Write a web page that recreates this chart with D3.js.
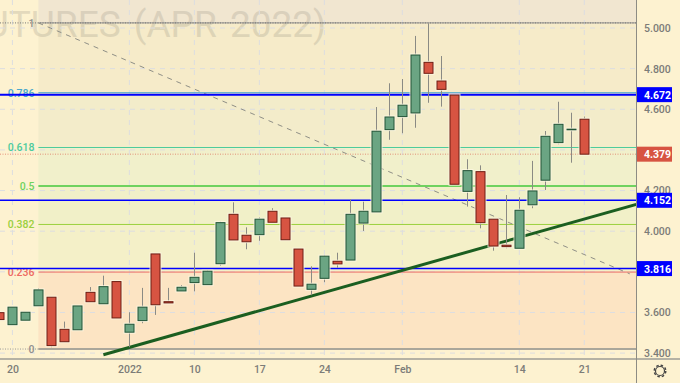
<!DOCTYPE html>
<html>
<head>
  <meta charset="utf-8">
  <title>Futures (Apr 2022)</title>
  <script src="https://d3js.org/d3.v7.min.js"></script>
  <style>
    html, body { margin: 0; padding: 0; background: #fdf2d0; overflow: hidden; }
    svg { display: block; }
    text { font-family: "Roboto", sans-serif; }
  </style>
</head>
<body>
<div id="chart"></div>
<script>
  // trading days, Dec 17 2021 - Feb 21 2022
  var dates = ["12-17","12-20","12-21","12-22","12-23","12-27","12-28","12-29","12-30","12-31",
    "01-03","01-04","01-05","01-06","01-07","01-10","01-11","01-12","01-13","01-14",
    "01-17","01-18","01-19","01-20","01-21","01-24","01-25","01-26","01-27","01-28",
    "01-31","02-01","02-02","02-03","02-04","02-07","02-08","02-09","02-10","02-11",
    "02-14","02-15","02-16","02-17","02-18","02-21"]

  var open  = [3.599,3.540,3.562,3.633,3.675,3.517,3.515,3.699,3.643,3.752,
    3.503,3.560,3.888,3.653,3.706,3.747,3.737,3.840,4.083,3.980,
    3.983,4.098,4.065,3.912,3.714,3.768,3.852,3.858,4.040,4.095,
    4.500,4.564,4.582,4.831,4.739,4.670,4.196,4.293,4.059,3.931,
    3.916,4.130,4.251,4.436,4.499,4.551]
  var close = [3.565,3.626,3.601,3.711,3.437,3.456,3.632,3.653,3.727,3.573,
    3.542,3.626,3.638,3.647,3.724,3.773,3.803,4.042,3.957,3.948,
    4.059,4.044,3.958,3.730,3.739,3.877,3.839,4.083,4.098,4.492,
    4.562,4.620,4.867,4.777,4.698,4.231,4.298,4.042,3.927,3.924,
    4.103,4.198,4.467,4.526,4.502,4.379]
  var high  = [3.599,3.626,3.601,3.719,3.675,3.555,3.632,3.725,3.781,3.752,
    3.601,3.721,3.888,3.721,3.735,3.894,3.809,4.047,4.142,4.019,
    4.068,4.113,4.065,3.912,3.827,3.883,3.894,4.157,4.145,4.611,
    4.728,4.749,4.961,5.023,4.862,4.670,4.354,4.324,4.059,4.178,
    4.167,4.346,4.493,4.637,4.583,4.564]
  var low   = [3.565,3.540,3.562,3.633,3.429,3.456,3.515,3.653,3.643,3.573,
    3.429,3.547,3.588,3.647,3.706,3.704,3.737,3.830,3.957,3.911,
    3.953,4.044,3.958,3.730,3.685,3.749,3.820,3.858,4.001,4.095,
    4.450,4.482,4.509,4.632,4.613,4.231,4.121,4.014,3.904,3.916,
    3.916,4.113,4.203,4.428,4.337,4.379]

  var fibLevels = [1, 0.786, 0.618, 0.5, 0.382, 0.236, 0]
  var fibLabels = ["1", "0.786", "0.618", "0.5", "0.382", "0.236", "0"]
  var fibColors = ["#8f8f8f", "#4aa8cc", "#4ccb9c", "#6fd25f", "#9bd03e", "#ee6a62", "#aaa69a"]
  var fibFills  = ["#f6ebc9", "#f3ecca", "#f1f0cb", "#f1f0c8", "#f4f0c8", "#fce4c3"]
  var fibHigh = 5.025, fibLow = 3.42

  var blueLevels = [4.672, 4.152, 3.816]
  var lastPrice = 4.379

  var priceTicks = [5.0, 4.8, 4.6, 4.4, 4.2, 4.0, 3.8, 3.6, 3.4]
  var timeTickDates = ["12-20", "01-03", "01-10", "01-17", "01-24", "02-01", "02-14", "02-21"]
  var timeTickLabels = ["20", "2022", "10", "17", "24", "Feb", "14", "21"]

  // bar index / price pairs for the drawn lines
  var trendLine = [[8, 3.392], [49, 4.132]]
  var fibTrend = [[3, 5.025], [48.5, 3.79]]

  var width = 680, height = 383
  var plotRight = 636, plotBottom = 358

  var x = d3.scaleLinear().domain([0, 45]).range([-0.6, 584.3])
  var y = d3.scaleLinear().domain([5, 3.4]).range([28, 353.1])
  var fibY = v => y(fibLow + v * (fibHigh - fibLow))

  var svg = d3.select("#chart").append("svg")
    .attr("width", width)
    .attr("height", height)

  svg.append("clipPath").attr("id", "plotClip")
    .append("rect").attr("width", plotRight).attr("height", plotBottom)

  var plot = svg.append("g").attr("clip-path", "url(#plotClip)")

  // fib zones
  var fibX = x(3)
  plot.append("rect")
    .attr("x", fibX).attr("y", 0)
    .attr("width", plotRight - fibX).attr("height", fibY(1))
    .attr("fill", "#f1e6d0")
  plot.selectAll("rect.zone")
    .data(fibFills)
    .join("rect")
      .attr("class", "zone")
      .attr("x", fibX)
      .attr("y", (d, i) => fibY(fibLevels[i]))
      .attr("width", plotRight - fibX)
      .attr("height", (d, i) => fibY(fibLevels[i + 1]) - fibY(fibLevels[i]))
      .attr("fill", d => d)

  // watermark
  plot.append("text")
    .attr("x", 326).attr("y", 37)
    .attr("text-anchor", "end")
    .style("font-size", "37px")
    .style("word-spacing", "4px")
    .attr("fill", "#8a8578")
    .attr("opacity", 0.22)
    .text("FUTURES (APR 2022)")

  // grid
  var tickIndex = timeTickDates.map(d => dates.indexOf(d))
  plot.selectAll("line.gridX")
    .data(tickIndex)
    .join("line")
      .attr("class", "gridX")
      .attr("x1", d => x(d)).attr("x2", d => x(d))
      .attr("y1", 0).attr("y2", plotBottom)
      .attr("stroke", "#dcdde0").attr("stroke-dasharray", "5 5")
  plot.selectAll("line.gridY")
    .data(priceTicks)
    .join("line")
      .attr("class", "gridY")
      .attr("x1", 0).attr("x2", plotRight)
      .attr("y1", d => y(d)).attr("y2", d => y(d))
      .attr("stroke", "#dcdde0").attr("stroke-dasharray", "5 5")

  // fib lines
  plot.selectAll("line.fib")
    .data(fibLevels)
    .join("line")
      .attr("class", "fib")
      .attr("x1", fibX).attr("x2", plotRight)
      .attr("y1", d => fibY(d)).attr("y2", d => fibY(d))
      .attr("stroke", (d, i) => fibColors[i])
      .attr("stroke-width", d => (d == 0 || d == 0.5) ? 2 : 1)

  // labels go under the blue lines, 0.786 is half hidden in the reference
  plot.selectAll("text.fibLabel")
    .data(fibLabels)
    .join("text")
      .attr("class", "fibLabel")
      .attr("x", 34.5)
      .attr("y", (d, i) => fibY(fibLevels[i]) + 4)
      .attr("text-anchor", "end")
      .style("font-size", "10.5px")
      .style("font-weight", 500)
      .attr("fill", (d, i) => fibColors[i] == "#aaa69a" ? "#8f8f8f" : fibColors[i])
      .text(d => d)

  // dotted lines for the high and low of the range
  plot.append("line")
    .attr("x1", 0).attr("x2", plotRight)
    .attr("y1", fibY(1)).attr("y2", fibY(1))
    .attr("stroke", "#777").attr("stroke-dasharray", "1 1.5")
  plot.append("line")
    .attr("x1", 0).attr("x2", fibX)
    .attr("y1", fibY(0)).attr("y2", fibY(0))
    .attr("stroke", "#999").attr("stroke-dasharray", "1 1.5")

  // last price line
  plot.append("line")
    .attr("x1", 0).attr("x2", plotRight)
    .attr("y1", y(lastPrice)).attr("y2", y(lastPrice))
    .attr("stroke", "#d75442").attr("opacity", 0.6).attr("stroke-dasharray", "1 1.5")

  var line = d3.line().x(d => x(d[0])).y(d => y(d[1]))

  plot.append("path")
    .attr("d", line(fibTrend))
    .attr("fill", "none")
    .attr("stroke", "#8f8f86").attr("stroke-width", 1)
    .attr("stroke-dasharray", "5 5")

  plot.selectAll("line.blue")
    .data(blueLevels)
    .join("line")
      .attr("class", "blue")
      .attr("x1", 0).attr("x2", plotRight)
      .attr("y1", d => y(d)).attr("y2", d => y(d))
      .attr("stroke", "#0000ff")
      .attr("stroke-width", (d, i) => i == 0 ? 2 : 1.5)

  plot.append("path")
    .attr("d", line(trendLine))
    .attr("fill", "none")
    .attr("stroke", "#1b5e20").attr("stroke-width", 3)

  // candles
  var candles = plot.selectAll("g.candle")
    .data(dates)
    .join("g")
      .attr("class", "candle")

  candles.append("line")
    .attr("x1", (d, i) => Math.round(x(i)) + 0.5).attr("x2", (d, i) => Math.round(x(i)) + 0.5)
    .attr("y1", (d, i) => y(high[i])).attr("y2", (d, i) => y(low[i]))
    .attr("stroke", "#8a8a84").attr("stroke-width", 1)

  // pale halo round the bodies
  candles.append("rect")
    .attr("x", (d, i) => Math.round(x(i)) - 4)
    .attr("width", 9)
    .attr("y", (d, i) => y(Math.max(open[i], close[i])))
    .attr("height", (d, i) => Math.max(0.5, Math.abs(y(open[i]) - y(close[i]))))
    .attr("fill", "none")
    .attr("stroke", "#fdf8e4").attr("stroke-width", 3).attr("opacity", 0.8)

  candles.append("rect")
    .attr("x", (d, i) => Math.round(x(i)) - 4)
    .attr("width", 9)
    .attr("y", (d, i) => y(Math.max(open[i], close[i])))
    .attr("height", (d, i) => Math.max(0.5, Math.abs(y(open[i]) - y(close[i]))))
    .attr("fill", (d, i) => close[i] >= open[i] ? "#6ba583" : "#d75442")
    .attr("stroke", (d, i) => close[i] >= open[i] ? "#225437" : "#6f1d12")
    .attr("stroke-width", 1)

  // axes
  var xAxis = d3.axisBottom(x)
    .tickValues(tickIndex)
    .tickFormat((d, i) => timeTickLabels[i])
    .tickSize(0).tickPadding(8)
  var xg = svg.append("g").attr("transform", "translate(0," + plotBottom + ")").call(xAxis)
  xg.select(".domain").remove()
  xg.selectAll("text").style("font-size", "10.5px").style("font-weight", 500).attr("fill", "#7c7c78")

  // the tags cover 4.400, so that tick is left to them
  var yAxis = d3.axisRight(y)
    .tickValues(priceTicks.filter(d => d != 3.8 && d != 4.4))
    .tickFormat(d3.format(".3f"))
    .tickSize(0).tickPadding(8)
  var yg = svg.append("g").attr("transform", "translate(" + plotRight + ",0)").call(yAxis)
  yg.select(".domain").remove()
  yg.selectAll("text").style("font-size", "10.5px").style("font-weight", 500).attr("fill", "#7c7c78")

  svg.append("line")
    .attr("x1", 0).attr("x2", width)
    .attr("y1", plotBottom + 1).attr("y2", plotBottom + 1)
    .attr("stroke", "#b5b2a4").attr("stroke-width", 2)
  svg.append("line")
    .attr("x1", plotRight + 0.5).attr("x2", plotRight + 0.5)
    .attr("y1", 0).attr("y2", height)
    .attr("stroke", "#8d8c84").attr("stroke-width", 1)

  // price tags on the axis
  var tags = blueLevels.map(v => ({ v: v, c: "#0000ff" })).concat([{ v: lastPrice, c: "#d75442" }])
  var tag = svg.selectAll("g.tag")
    .data(tags)
    .join("g")
      .attr("class", "tag")
      .attr("transform", d => "translate(" + (plotRight + 1) + "," + y(d.v) + ")")
  tag.append("rect")
    .attr("x", 0).attr("y", -7.5)
    .attr("width", 35).attr("height", 15)
    .attr("fill", d => d.c)
  tag.append("text")
    .attr("x", 7).attr("y", 4)
    .style("font-size", "10.5px").style("font-weight", "bold")
    .attr("fill", "#fff")
    .text(d => d.v.toFixed(3))

  // settings gear
  var gear = svg.append("g").attr("transform", "translate(660,371)")
  gear.append("circle").attr("r", 4.5)
    .attr("fill", "none").attr("stroke", "#444").attr("stroke-width", 1.2)
  gear.append("circle").attr("r", 5.8)
    .attr("fill", "none").attr("stroke", "#444").attr("stroke-width", 1.4)
    .attr("stroke-dasharray", "2.5 2.05")
</script>
</body>
</html>
